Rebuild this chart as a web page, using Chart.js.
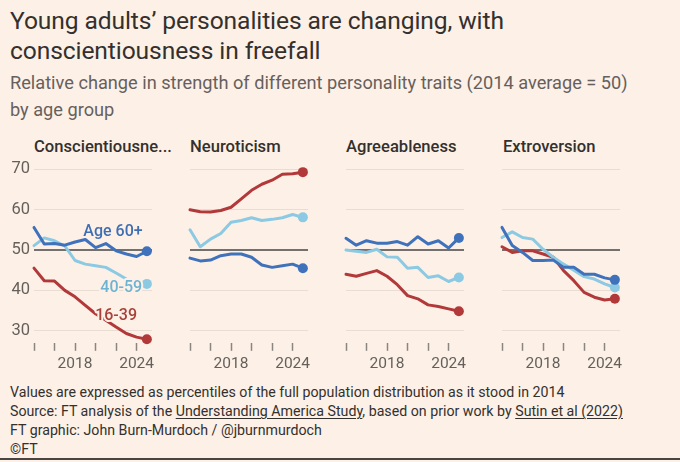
<!DOCTYPE html>
<html>
<head>
<meta charset="utf-8">
<script src="https://cdn.jsdelivr.net/npm/chart.js@4.4.1/dist/chart.umd.min.js"></script>
<style>
  body { margin: 0; background: #fdf1e7; width: 680px; height: 462px; overflow: hidden; position: relative; font-family: Roboto, sans-serif; }
  .txt { position: absolute; left: 10px; white-space: nowrap; }
  .head { font-size: 24.6px; color: #33302e; letter-spacing: -0.1px; }
  .sub { font-size: 18.2px; color: #66605c; }
  .foot { font-size: 14.2px; color: #33302e; }
  .foot u { text-decoration-thickness: 1px; text-underline-offset: 2px; }
  .ptitle { position: absolute; top: 137px; font-size: 16.6px; font-weight: 500; color: #33302e; white-space: nowrap; }
  .panel { position: absolute; top: 150px; width: 164px; height: 230px; }
  .rule { position: absolute; left: 0; right: 0; top: 458px; height: 2px; background: #4a4541; }
</style>
</head>
<body>
<div class="txt head" style="top:6px">Young adults’ personalities are changing, with</div>
<div class="txt head" style="top:36px">conscientiousness in freefall</div>
<div class="txt sub" style="top:72px">Relative change in strength of different personality traits (2014 average = 50)</div>
<div class="txt sub" style="top:99px">by age group</div>

<div class="ptitle" style="left:34px">Conscientiousne...</div>
<div class="ptitle" style="left:190px">Neuroticism</div>
<div class="ptitle" style="left:346px">Agreeableness</div>
<div class="ptitle" style="left:503px">Extroversion</div>

<div class="panel" style="left:0px"><canvas id="c0"></canvas></div>
<div class="panel" style="left:156px"><canvas id="c1"></canvas></div>
<div class="panel" style="left:312px"><canvas id="c2"></canvas></div>
<div class="panel" style="left:468px"><canvas id="c3"></canvas></div>

<div class="txt foot" style="top:384px">Values are expressed as percentiles of the full population distribution as it stood in 2014</div>
<div class="txt foot" style="top:403px">Source: FT analysis of the <u>Understanding America Study</u>, based on prior work by <u>Sutin et al (2022)</u></div>
<div class="txt foot" style="top:422px">FT graphic: John Burn-Murdoch / @jburnmurdoch</div>
<div class="txt foot" style="top:441px">©FT</div>
<div class="rule"></div>

<script>
// years of the survey waves
var years = [2014, 2015, 2016, 2017, 2018, 2019, 2020, 2021, 2022, 2023, 2024, 2025];
var xTicks = [2014, 2016, 2018, 2020, 2022, 2024];
var xLabels = [2018, 2024];
var yTicks = [30, 40, 50, 60, 70];
var traits = ['Conscientiousne...', 'Neuroticism', 'Agreeableness', 'Extroversion'];

// Conscientiousness
var consc60 = [55.6, 51.5, 51.6, 51.2, 52.0, 52.6, 50.6, 51.6, 49.8, 49.0, 48.4, 49.7];
var consc4059 = [51.1, 53.0, 52.3, 51.0, 47.4, 46.5, 46.1, 45.7, 44.3, 42.8, 42.0, 41.6];
var consc1639 = [45.5, 42.4, 42.3, 40.0, 38.4, 36.3, 34.2, 32.6, 30.9, 29.3, 28.4, 27.9];

// Neuroticism
var neuro60 = [48.0, 47.3, 47.5, 48.6, 49.0, 49.0, 48.2, 46.3, 45.7, 46.1, 46.5, 45.5];
var neuro4059 = [55.0, 50.8, 52.7, 54.1, 56.9, 57.3, 58.0, 57.3, 57.6, 58.0, 58.8, 58.1];
var neuro1639 = [60.0, 59.5, 59.4, 59.8, 60.6, 62.7, 64.8, 66.3, 67.3, 68.8, 68.9, 69.3];

// Agreeableness
var agree60 = [52.9, 51.2, 52.3, 51.7, 51.7, 52.1, 51.2, 53.3, 51.5, 52.3, 50.5, 53.0];
var agree4059 = [50.0, 49.7, 49.4, 50.2, 48.3, 48.2, 45.5, 45.7, 43.2, 43.6, 42.2, 43.2];
var agree1639 = [44.0, 43.5, 44.2, 44.9, 43.5, 41.4, 38.7, 37.9, 36.4, 36.0, 35.4, 34.8];

// Extroversion
var extro60 = [55.6, 51.1, 49.4, 47.4, 47.4, 47.5, 45.7, 45.7, 44.0, 44.0, 43.1, 42.6];
var extro4059 = [53.1, 54.5, 53.1, 52.7, 50.2, 48.2, 46.5, 45.0, 43.4, 42.8, 41.6, 40.7];
var extro1639 = [50.8, 49.4, 49.8, 49.8, 49.0, 48.2, 44.9, 42.4, 39.5, 38.3, 37.6, 37.9];

// direct labels on the first panel: [text, year, value]
var seriesLabels = [['Age 60+', 2021.7, 54.4], ['40-59', 2022.5, 40.7], ['16-39', 2022.0, 33.7]];

var bg = '#fdf1e7';
var darkBlue = '#3f72ba';
var lightBlue = '#8cc9e3';
var red = '#b2393a';
var labelColors = ['#3f6fb3', '#6fb3d3', '#a8413a'];

var panels = [
    [consc60, consc4059, consc1639],
    [neuro60, neuro4059, neuro1639],
    [agree60, agree4059, agree1639],
    [extro60, extro4059, extro1639]
];

var labelPlugin = {
    id: 'seriesLabels',
    afterDatasetsDraw: function(chart, args, opts) {
        if (!opts.show) return;
        var ctx = chart.ctx, x = chart.scales.x, y = chart.scales.y;
        ctx.save();
        ctx.font = '500 16px Roboto';
        ctx.textAlign = 'center';
        ctx.textBaseline = 'middle';
        ctx.lineJoin = 'round';
        seriesLabels.forEach(function(l, i) {
            var px = x.getPixelForValue(l[1]), py = y.getPixelForValue(l[2]);
            ctx.lineWidth = 4;
            ctx.strokeStyle = bg;
            ctx.strokeText(l[0], px, py);
            ctx.fillStyle = labelColors[i];
            ctx.fillText(l[0], px, py);
        });
        ctx.restore();
    }
};

function makeDataset(values, color) {
    var last = values.length - 1;
    return {
        data: values.map(function(v, i) { return {x: years[i], y: v}; }),
        borderColor: color,
        backgroundColor: color,
        borderWidth: 3,
        borderJoinStyle: 'round',
        borderCapStyle: 'round',
        pointRadius: function(c) { return c.dataIndex === last ? 5 : 0; },
        pointBorderWidth: 0,
        clip: false,
        tension: 0
    };
}

panels.forEach(function(series, p) {
    new Chart(document.getElementById('c' + p), {
        type: 'line',
        data: {
            datasets: [
                makeDataset(series[0], darkBlue),
                makeDataset(series[1], lightBlue),
                makeDataset(series[2], red)
            ]
        },
        options: {
            responsive: true,
            maintainAspectRatio: false,
            animation: false,
            layout: { padding: { top: 15.3, right: 12, left: 0, bottom: 0 } },
            plugins: {
                legend: { display: false },
                tooltip: { enabled: false },
                seriesLabels: { show: p === 0 }
            },
            scales: {
                x: {
                    type: 'linear',
                    min: 2014,
                    max: 2025.5,
                    afterBuildTicks: function(s) { s.ticks = xTicks.map(function(v) { return {value: v}; }); },
                    afterFit: function(s) { s.height = 37.2; },
                    border: { display: false },
                    grid: { drawOnChartArea: false, drawTicks: true, tickLength: 8, tickColor: '#8b847f', tickWidth: 1.5 },
                    ticks: {
                        autoSkip: false,
                        maxRotation: 0,
                        padding: 4,
                        color: '#66605c',
                        font: { family: 'Roboto', size: 15.5 },
                        callback: function(v) { return xLabels.indexOf(v) >= 0 ? String(v) : ''; }
                    }
                },
                y: {
                    min: 27,
                    max: 71,
                    afterBuildTicks: function(s) { s.ticks = yTicks.map(function(v) { return {value: v}; }); },
                    afterFit: function(s) { s.width = 34; },
                    border: { display: false },
                    grid: {
                        drawTicks: false,
                        color: function(c) { return c.tick && c.tick.value === 50 ? '#74706d' : '#e9ddd3'; },
                        lineWidth: function(c) { return c.tick && c.tick.value === 50 ? 2 : 1; }
                    },
                    ticks: {
                        display: p === 0,
                        padding: 4,
                        color: '#66605c',
                        font: { family: 'Roboto', size: 16.5 }
                    }
                }
            }
        },
        plugins: [labelPlugin]
    });
});
</script>
</body>
</html>
